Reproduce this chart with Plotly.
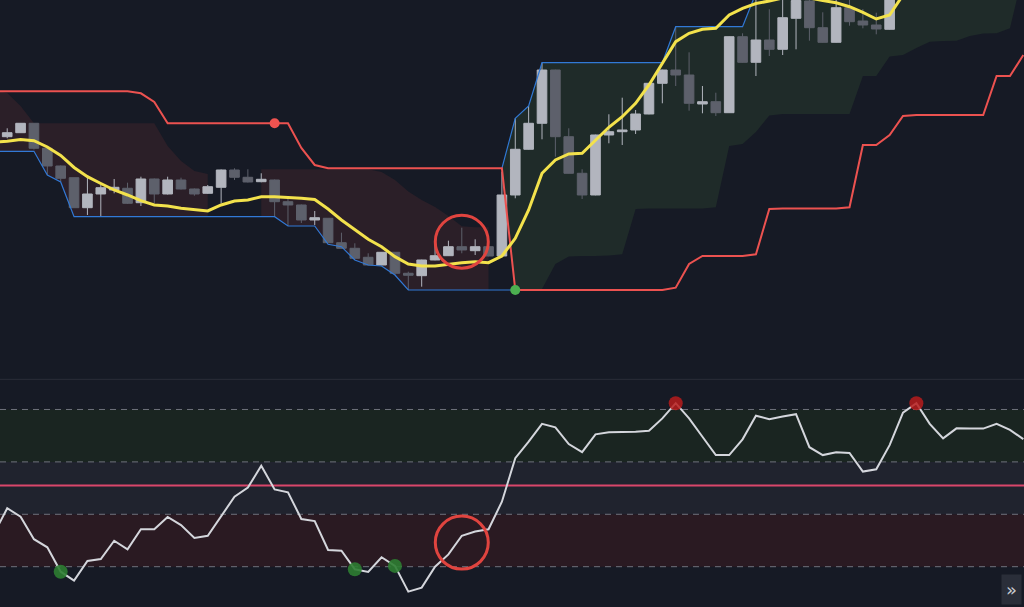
import plotly.graph_objects as go

# bar index (the leftmost bar sits just off the left edge)
bars = list(range(-1, 77))

opens = [115.2,
         115.33, 115.73, 116.67, 114.17, 112.4, 111.23, 108.23, 109.6, 110.0, 110.17,
         108.73, 111.1, 109.6, 111.0, 110.1, 109.67, 110.27, 112.0, 111.27, 110.83,
         111.0, 108.83, 108.5, 107.0, 107.17, 104.73, 104.17, 103.27, 102.5, 103.77,
         101.67, 101.43, 103.0, 103.43, 104.33, 103.93, 104.33, 103.4, 109.5, 114.07,
         116.67, 122.0, 115.33, 111.67, 109.5, 115.5, 115.83, 116.0, 117.6, 120.67,
         122.0, 121.5, 118.6, 118.83, 117.73, 125.33, 122.77, 125.0, 124.07, 127.17,
         128.9, 126.23, 124.77, 128.23, 126.9, 126.5, 126.07, 130.5, 131.8, 132.6,
         131.9, 132.4, 133.7, 133.2, 133.6, 134.8, 134.3]
highs = [116.2,
         116.17, 116.7, 116.7, 114.2, 112.45, 111.25, 111.5, 110.5, 111.1, 110.73,
         111.33, 111.15, 111.33, 111.23, 110.15, 110.5, 112.05, 112.17, 112.07, 111.67,
         111.05, 109.33, 108.55, 107.9, 107.2, 105.73, 104.67, 103.67, 103.8, 103.8,
         101.83, 103.03, 104.83, 104.93, 106.23, 105.07, 104.37, 111.83, 117.17, 118.4,
         122.73, 122.03, 116.17, 112.07, 115.53, 117.57, 119.23, 118.0, 120.7, 122.03,
         126.33, 123.77, 120.4, 119.73, 125.36, 125.67, 129.8, 128.07, 129.3, 129.6,
         129.4, 127.77, 129.5, 129.3, 128.1, 127.73, 131.0, 132.2, 133.0, 133.4,
         132.8, 134.1, 134.5, 133.9, 135.2, 135.6, 135.0]
lows = [114.8,
        115.17, 115.7, 114.05, 111.5, 110.83, 108.2, 107.5, 107.33, 109.67, 108.6,
        108.4, 108.67, 109.55, 110.05, 109.43, 109.62, 108.67, 111.0, 110.75, 110.77,
        107.33, 106.4, 106.7, 106.5, 104.7, 104.13, 103.13, 102.47, 102.47, 101.5,
        100.0, 100.33, 102.97, 103.4, 103.67, 103.5, 103.37, 103.37, 109.17, 114.04,
        115.07, 113.33, 111.64, 109.1, 109.47, 114.67, 114.5, 115.6, 117.57, 118.67,
        120.4, 117.93, 117.67, 117.4, 117.7, 122.74, 121.4, 123.4, 123.5, 124.07,
        124.93, 124.74, 124.74, 126.43, 126.17, 125.57, 126.04, 130.1, 131.2, 131.5,
        131.0, 132.0, 132.9, 132.3, 133.1, 134.0, 133.5]
closes = [115.7,
          115.73, 116.67, 114.17, 112.4, 111.17, 108.23, 109.6, 110.23, 110.27, 108.67,
          111.1, 109.6, 111.0, 110.1, 109.6, 110.33, 112.0, 111.27, 110.8, 111.07,
          108.83, 108.5, 107.0, 107.23, 104.73, 104.17, 103.17, 102.5, 103.77, 101.67,
          101.47, 103.0, 103.43, 104.33, 104.0, 104.33, 103.4, 109.5, 114.07, 116.67,
          122.0, 115.33, 111.67, 109.5, 115.5, 115.83, 116.0, 117.6, 120.67, 122.0,
          121.5, 118.67, 118.83, 117.73, 125.33, 122.77, 125.0, 124.07, 127.23, 128.95,
          126.23, 124.77, 128.23, 126.83, 126.5, 126.1, 130.5, 131.8, 132.6, 131.9,
          132.4, 133.7, 133.2, 133.6, 134.8, 134.3, 134.7]

# moving average (yellow)
ma_line = [114.8,
           114.87, 115.05, 114.93, 114.3, 113.45, 112.25, 111.33, 110.65, 110.0, 109.5,
           108.93, 108.5, 108.4, 108.17, 108.0, 107.9, 108.5, 108.9, 109.0, 109.33,
           109.33, 109.27, 109.17, 109.05, 108.1, 107.0, 106.0, 105.07, 104.33, 103.33,
           102.6, 102.4, 102.4, 102.6, 102.73, 102.83, 102.73, 103.4, 105.17, 108.0,
           111.67, 113.0, 113.6, 113.67, 115.0, 116.27, 117.33, 118.67, 120.5, 122.73,
           124.83, 125.67, 126.07, 126.17, 127.5, 128.17, 128.65, 128.9, 129.2, 129.3,
           129.2, 128.95, 128.73, 128.33, 127.77, 127.1, 127.5, 129.5, 130.6, 131.3,
           131.8, 132.2, 132.6, 133.0, 133.3, 133.6, 133.9]

# blue band: leg while trend is down, then leg after the flip
band_down = [113.87,
             113.87, 113.87, 113.87, 111.5, 110.8, 107.33, 107.33, 107.33, 107.33, 107.33,
             107.33, 107.33, 107.33, 107.33, 107.33, 107.33, 107.33, 107.33, 107.33, 107.33,
             107.33, 106.4, 106.4, 106.4, 104.57, 104.33, 103.0, 102.5, 102.4, 101.5,
             100.0, 100.0, 100.0, 100.0, 100.0, 100.0, 100.0, 100.0, 100.0, None,
             None, None, None, None, None, None, None, None, None, None,
             None, None, None, None, None, None, None, None, None, None,
             None, None, None, None, None, None, None, None, None, None,
             None, None, None, None, None, None, None]
band_up = [None,
           None, None, None, None, None, None, None, None, None, None,
           None, None, None, None, None, None, None, None, None, None,
           None, None, None, None, None, None, None, None, None, None,
           None, None, None, None, None, None, None, 112.17, 117.17, 118.4,
           122.73, 122.73, 122.73, 122.73, 122.73, 122.73, 122.73, 122.73, 122.73, 122.73,
           126.33, 126.33, 126.33, 126.33, 126.33, 126.33, 129.7, 130.2, 130.2, 130.2,
           130.2, 131.6, 131.6, 131.6, 131.6, 131.6, 131.6, 133.5, 133.5, 133.5,
           133.5, 133.5, 133.5, 133.5, 133.5, 133.5, 133.5]

# red trailing stop
stop_line = [119.87,
             119.87, 119.87, 119.87, 119.87, 119.87, 119.87, 119.87, 119.87, 119.87, 119.87,
             119.67, 118.8, 116.67, 116.67, 116.67, 116.67, 116.67, 116.67, 116.67, 116.67,
             116.67, 116.67, 114.2, 112.5, 112.17, 112.17, 112.17, 112.17, 112.17, 112.17,
             112.17, 112.17, 112.17, 112.17, 112.17, 112.17, 112.17, 112.17, 100.0, 100.0,
             100.0, 100.0, 100.0, 100.0, 100.0, 100.0, 100.0, 100.0, 100.0, 100.0,
             100.23, 102.6, 103.4, 103.4, 103.4, 103.4, 103.57, 108.1, 108.15, 108.15,
             108.15, 108.15, 108.15, 108.27, 114.5, 114.5, 115.5, 117.4, 117.5, 117.5,
             117.5, 117.5, 117.5, 117.5, 121.4, 121.4, 123.5]

# cloud edges (the other edge of each cloud is the blue band)
bear_cloud_top = [120.0,
                  119.7, 118.4, 116.67, 116.67, 116.67, 116.67, 116.67, 116.67, 116.67, 116.67,
                  116.67, 116.67, 114.4, 112.9, 111.9, 111.6, None, None, None, 112.07,
                  112.07, 112.07, 112.07, 112.07, 112.07, 112.07, 112.07, 112.07, 111.8, 111.0,
                  109.85, 109.0, 108.3, 107.4, 106.37, 106.27, 106.27, None, None, None,
                  None, None, None, None, None, None, None, None, None, None,
                  None, None, None, None, None, None, None, None, None, None,
                  None, None, None, None, None, None, None, None, None, None,
                  None, None, None, None, None, None, None]
bull_cloud_bottom = [None,
                     None, None, None, None, None, None, None, None, None, None,
                     None, None, None, None, None, None, None, None, None, None,
                     None, None, None, None, None, None, None, None, None, None,
                     None, None, None, None, None, None, None, 112.17, 100.0, 100.0,
                     100.1, 102.6, 103.35, 103.4, 103.4, 103.45, 103.57, 108.1, 108.15, 108.15,
                     108.15, 108.15, 108.15, 108.27, 114.4, 114.6, 115.8, 117.45, 117.6, 117.6,
                     117.6, 117.6, 117.6, 117.6, 121.4, 121.4, 123.35, 123.5, 124.2, 124.83,
                     124.9, 124.93, 125.4, 125.65, 125.67, 126.17, 131.8]

stop_flip_red = [20]
stop_flip_green = [38]

# oscillator pane
oscillator = [32.5,
              42.3, 39.1, 30.5, 27.4, 18.1, 14.7, 22.2, 22.9, 29.9, 26.6,
              34.3, 34.3, 39.0, 35.9, 31.0, 31.8, 39.5, 46.7, 50.2, 58.5,
              49.5, 48.4, 38.2, 37.4, 26.4, 26.1, 19.0, 18.0, 23.6, 20.3,
              10.5, 12.0, 20.0, 24.7, 31.8, 33.4, 34.3, 44.8, 61.4, 67.7,
              74.5, 73.2, 66.8, 63.7, 70.5, 71.3, 71.4, 71.5, 71.9, 76.6,
              82.4, 76.6, 69.6, 62.6, 62.6, 68.6, 77.6, 76.3, 77.3, 78.2,
              65.6, 62.6, 63.7, 63.4, 56.3, 57.2, 66.4, 78.8, 82.4, 74.5,
              69.0, 72.8, 72.7, 72.7, 74.5, 72.2, 68.7]
osc_levels = [20, 40, 60, 80]
osc_mid = 51
osc_buy = [4, 26, 29]
osc_sell = [50, 68]

# highlighted bar (circled in both panes)
focus_bar = 34
focus_price = 104.83
focus_osc = 29.2

BG = '#161a25'


def segments(top, bottom):
    segs, cur = [], []
    for x, t, b in zip(bars, top, bottom):
        if t is None or b is None:
            if cur:
                segs.append(cur)
            cur = []
        else:
            cur.append((x, t, b))
    if cur:
        segs.append(cur)
    return segs


def cloud_paths(top, bottom):
    # closed svg paths in data coordinates: along the top edge, back along the bottom
    paths = []
    for seg in segments(top, bottom):
        pts = [(s[0], s[1]) for s in seg] + [(s[0], s[2]) for s in reversed(seg)]
        paths.append('M ' + ' L '.join(f'{x},{y}' for x, y in pts) + ' Z')
    return paths


fig = go.Figure()

# clouds go in as shapes so they stay under the candles
for p in cloud_paths(bear_cloud_top, band_down):
    fig.add_shape(type='path', path=p, xref='x', yref='y', fillcolor='#2b1f28', line_width=0, layer='below')
for p in cloud_paths(band_up, bull_cloud_bottom):
    fig.add_shape(type='path', path=p, xref='x', yref='y', fillcolor='#1f2b29', line_width=0, layer='below')

fig.add_trace(go.Candlestick(
    x=bars, open=opens, high=highs, low=lows, close=closes,
    increasing=dict(line=dict(color='#b2b5be', width=1), fillcolor='#b2b5be'),
    decreasing=dict(line=dict(color='#5d606b', width=1), fillcolor='#5d606b'),
    showlegend=False,
))

fig.add_trace(go.Scatter(x=bars, y=band_down, mode='lines', line=dict(color='#3179d6', width=1.2),
                         showlegend=False))
fig.add_trace(go.Scatter(x=bars, y=band_up, mode='lines', line=dict(color='#3179d6', width=1.2),
                         showlegend=False))
fig.add_trace(go.Scatter(x=bars, y=stop_line, mode='lines', line=dict(color='#ec5250', width=2),
                         showlegend=False))
fig.add_trace(go.Scatter(x=bars, y=ma_line, mode='lines', line=dict(color='#f3e24c', width=3),
                         showlegend=False))

fig.add_trace(go.Scatter(x=stop_flip_red, y=[stop_line[bars.index(i)] for i in stop_flip_red],
                         mode='markers', marker=dict(color='#ef5350', size=10), showlegend=False))
fig.add_trace(go.Scatter(x=stop_flip_green, y=[stop_line[bars.index(i)] for i in stop_flip_green],
                         mode='markers', marker=dict(color='#4caf50', size=10), showlegend=False))
fig.add_trace(go.Scatter(x=[focus_bar], y=[focus_price], mode='markers',
                         marker=dict(symbol='circle-open', size=53, color='#e0443f', line=dict(width=3)),
                         showlegend=False))

# lower pane
fig.add_trace(go.Scatter(x=bars, y=oscillator, mode='lines', line=dict(color='#d4d6dc', width=2),
                         xaxis='x2', yaxis='y2', showlegend=False))
fig.add_trace(go.Scatter(x=osc_buy, y=[oscillator[bars.index(i)] for i in osc_buy], mode='markers',
                         marker=dict(color='rgba(46,125,50,0.9)', size=14),
                         xaxis='x2', yaxis='y2', showlegend=False))
fig.add_trace(go.Scatter(x=osc_sell, y=[oscillator[bars.index(i)] for i in osc_sell], mode='markers',
                         marker=dict(color='rgba(183,28,28,0.85)', size=14),
                         xaxis='x2', yaxis='y2', showlegend=False))
fig.add_trace(go.Scatter(x=[focus_bar], y=[focus_osc], mode='markers',
                         marker=dict(symbol='circle-open', size=53, color='#e0443f', line=dict(width=3)),
                         xaxis='x2', yaxis='y2', showlegend=False))

# zone fills and level lines in the oscillator pane
band_colors = ['#2a1a22', '#20232e', '#1a2521']
for lo, hi, col in zip(osc_levels[:-1], osc_levels[1:], band_colors):
    fig.add_shape(type='rect', xref='paper', yref='y2', x0=0, x1=1, y0=lo, y1=hi,
                  fillcolor=col, line_width=0, layer='below')
for lvl in osc_levels:
    fig.add_shape(type='line', xref='paper', yref='y2', x0=0, x1=1, y0=lvl, y1=lvl,
                  line=dict(color='#6f727c', width=1, dash='6px,5px'), layer='below')
fig.add_shape(type='line', xref='paper', yref='y2', x0=0, x1=1, y0=osc_mid, y1=osc_mid,
              line=dict(color='#d9466b', width=2), layer='below')

# pane separator
fig.add_shape(type='line', xref='paper', yref='paper', x0=0, x1=1, y0=0.3751, y1=0.3751,
              line=dict(color='#2a2e39', width=1))

fig.add_annotation(text='»', xref='paper', yref='paper', x=1, y=0, xanchor='right', yanchor='bottom',
                   showarrow=False, font=dict(size=18, color='#c8cad0', family='DejaVu Sans'),
                   bgcolor='#2a2e39', borderpad=4, xshift=-2, yshift=2)

axis_off = dict(showgrid=False, zeroline=False, showticklabels=False, showline=False, ticks='')
fig.update_layout(
    width=1024, height=607,
    margin=dict(l=0, r=0, t=0, b=0),
    paper_bgcolor=BG, plot_bgcolor=BG,
    hovermode=False,
    boxgap=0.28, boxgroupgap=0,
    xaxis=dict(range=[-0.539, 76.05], domain=[0, 1], anchor='y', rangeslider=dict(visible=False), **axis_off),
    yaxis=dict(range=[91.2, 129.0], domain=[0.3773, 1], anchor='x', **axis_off),
    xaxis2=dict(range=[-0.539, 76.05], domain=[0, 1], anchor='y2', matches='x', **axis_off),
    yaxis2=dict(range=[4.62, 91.26], domain=[0, 0.374], anchor='x2', **axis_off),
)

# the page's default 8px body margin would push the fixed-size chart off the window
fig.write_html("out.html", config={'displayModeBar': False},
               post_script="document.body.style.margin = '0';")
